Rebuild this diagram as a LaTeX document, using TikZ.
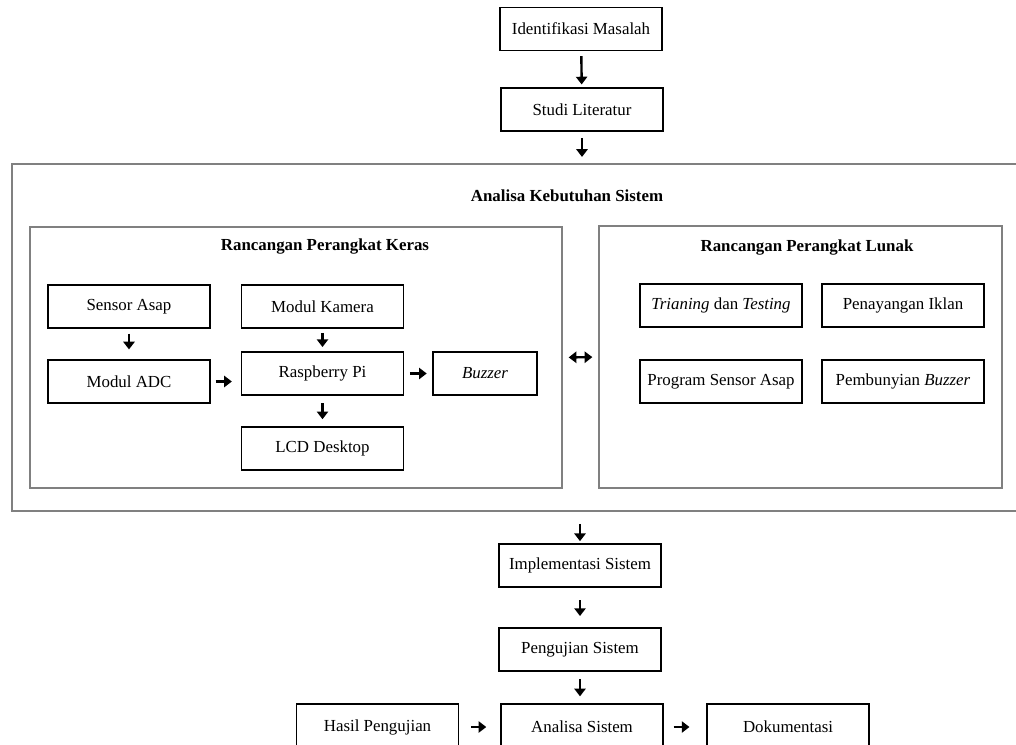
\documentclass[tikz,border=0pt]{standalone}
\usepackage{fontspec}
\setmainfont{Liberation Serif}
\usepackage{tikz}
\usetikzlibrary{arrows.meta}

\tikzset{
  box/.style={draw=black, line width=0.9pt, minimum width=4.05cm, minimum height=1.08cm, inner sep=1pt},
  frame/.style={draw=gray, line width=1.4pt, inner sep=0pt},
  arr/.style={line width=1.7pt, -{Triangle[length=5.5pt,width=8pt]}},
  darr/.style={line width=1.7pt, {Triangle[length=5.5pt,width=8pt]}-{Triangle[length=5.5pt,width=8pt]}},
  ttl/.style={font=\fontsize{12}{14}\selectfont\bfseries}
}

\begin{document}
\begin{tikzpicture}[x=0.025cm, y=-0.025cm, font=\fontsize{12}{14}\selectfont]
  \useasboundingbox (0,0) rectangle (1016,744);
  \clip (0,0) rectangle (1016,744);

  \node[box] (idm) at (581, 29) {Identifikasi Masalah};
  \node[box] (studi) at (582, 109.5) {Studi Literatur};

  % analisa kebutuhan sistem
  \node[frame, minimum width=25.45cm, minimum height=8.675cm] (outer) at (521, 337.5) {};
  \node[ttl] (kebutuhan) at (567, 196) {Analisa Kebutuhan Sistem};

  \node[frame, minimum width=13.3cm, minimum height=6.525cm] (hw) at (296, 357.5) {};
  \node[ttl] (hwtitle) at (325, 247) {Rancangan Perangkat Keras};
  \node[box] (sensor) at (129, 306.5) {Sensor Asap};
  \node[box] (adc) at (129, 381.5) {Modul ADC};
  \node[box] (kamera) at (322.5, 306.5) {Modul Kamera};
  \node[box] (rpi) at (322.5, 373.5) {Raspberry Pi};
  \node[box, minimum width=2.6cm] (buzzer) at (485, 373.5) {\textit{Buzzer}};
  \node[box] (lcd) at (322.5, 448.5) {LCD Desktop};

  \node[frame, minimum width=10.075cm, minimum height=6.55cm] (sw) at (800.5, 357) {};
  \node[ttl] (swtitle) at (807, 248) {Rancangan Perangkat Lunak};
  \node[box] (train) at (721, 305.5) {\textit{Trianing} dan \textit{Testing}};
  \node[box] (iklan) at (903, 305.5) {Penayangan Iklan};
  \node[box] (progsensor) at (721, 381.5) {Program Sensor Asap};
  \node[box] (bunyi) at (903, 381.5) {Pembunyian \textit{Buzzer}};

  \node[box] (impl) at (580, 565.5) {Implementasi Sistem};
  \node[box] (uji) at (580, 649.5) {Pengujian Sistem};
  \node[box, minimum height=1.15cm] (analisa) at (582, 727) {Analisa Sistem};
  \node[box, minimum height=1.15cm] (hasil) at (377.5, 727) {Hasil Pengujian};
  \node[box, minimum height=1.15cm] (dok) at (788, 727) {Dokumentasi};

  \draw[arr, shorten <=3.5pt, shorten >=2pt] (idm) -- (studi);
  \draw[arr, shorten <=4.3pt, shorten >=4.3pt] (studi) -- (studi |- outer.north);
  \draw[arr, shorten <=3.5pt, shorten >=7pt] (sensor) -- (adc);
  \draw[arr, shorten <=3.5pt, shorten >=6.4pt] (adc) -- (adc -| rpi.west);
  \draw[arr, shorten <=3pt, shorten >=3pt] (kamera) -- (rpi);
  \draw[arr, shorten <=4pt, shorten >=4pt] (rpi) -- (rpi -| buzzer.west);
  \draw[arr, shorten <=5.5pt, shorten >=5pt] (rpi) -- (lcd);
  \draw[darr, shorten <=4pt, shorten >=4pt] (hw.east) -- (sw.west);
  \draw[arr, shorten <=8.5pt, shorten >=1.5pt] (impl |- outer.south) -- (impl);
  \draw[arr, shorten <=9pt, shorten >=8pt] (impl) -- (uji);
  \draw[arr, shorten <=5pt, shorten >=5pt] (uji) -- (uji |- analisa.north);
  \draw[arr, shorten <=8.5pt, shorten >=10pt] (hasil) -- (analisa);
  \draw[arr, shorten <=7pt, shorten >=12pt] (analisa) -- (dok);
\end{tikzpicture}
\end{document}
